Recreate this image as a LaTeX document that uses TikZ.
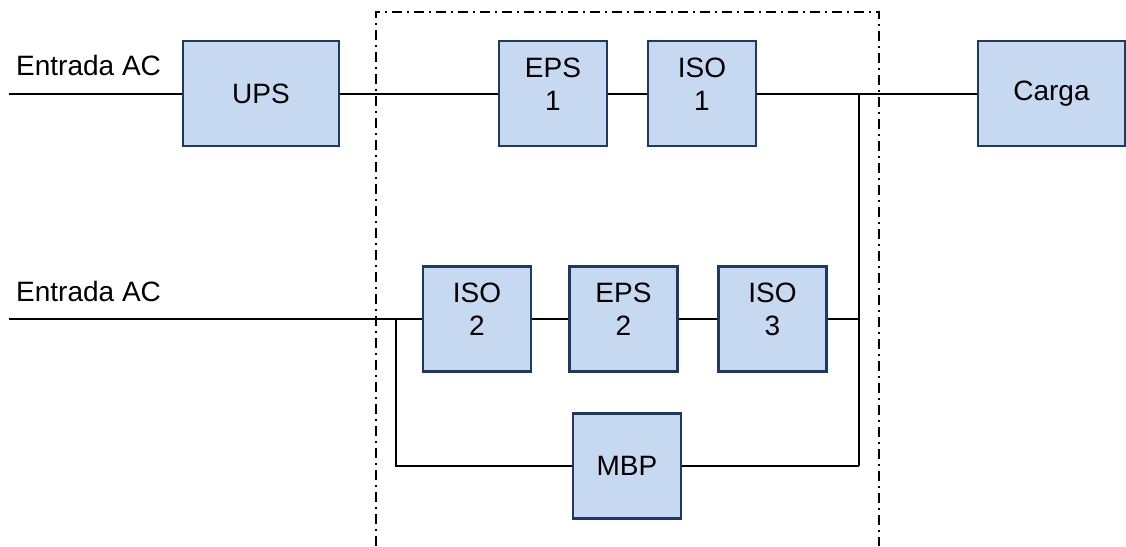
\documentclass[tikz,border=0pt]{standalone}
\usepackage{fontspec}
\setmainfont{Liberation Sans}
\definecolor{boxfill}{HTML}{C6D9F0}
\definecolor{boxline}{HTML}{1F3A60}
\begin{document}
\begin{tikzpicture}[x=1pt,y=-1pt,
  blk/.style={draw=boxline,fill=boxfill,line width=2.2pt,inner sep=0pt,align=center,
    minimum width=108pt,minimum height=105pt,font=\fontsize{28}{33}\selectfont},
  blktwo/.style={blk,text depth=19pt},
  wire/.style={line width=2pt,black},
  lbl/.style={font=\fontsize{28}{34}\selectfont,anchor=base west,inner sep=0pt},
  frame/.style={line width=2pt,dash pattern=on 10pt off 5pt on 2pt off 5pt}]
\useasboundingbox (0,0) rectangle (1126,546);
% frame
\draw[frame] (376,546) -- (376,12) -- (879,12) -- (879,546);
% blocks
\node[blk,minimum width=156pt] (ups) at (261,93.5) {UPS};
\node[blktwo] (eps1) at (553,93.5) {EPS\\1};
\node[blktwo] (iso1) at (702,93.5) {ISO\\1};
\node[blk,minimum width=147pt] (carga) at (1051.5,93.5) {Carga};
\node[blktwo] (iso2) at (477,319) {ISO\\2};
\node[blktwo] (eps2) at (623.5,319) {EPS\\2};
\node[blktwo] (iso3) at (772.5,319) {ISO\\3};
\node[blk] (mbp) at (627,466) {MBP};
% labels
\node[lbl] (l1) at (16,75) {Entrada AC};
\node[lbl] (l2) at (16,301) {Entrada AC};
% coordinates
\coordinate (in1) at (9,93.5);
\coordinate (in2) at (9,319);
\coordinate (j1) at (859,93.5);
\coordinate (j2) at (859,319);
\coordinate (j3) at (859,466);
\coordinate (s1) at (396,319);
\coordinate (s2) at (396,466);
% wires
\draw[wire] (in1) -- (ups);
\draw[wire] (ups) -- (eps1);
\draw[wire] (eps1) -- (iso1);
\draw[wire] (iso1) -- (carga);
\draw[wire] (in2) -- (iso2);
\draw[wire] (iso2) -- (eps2);
\draw[wire] (eps2) -- (iso3);
\draw[wire] (iso3) -- (j2);
\draw[wire] (j1) -- (j3);
\draw[wire] (s1) -- (s2) -- (mbp);
\draw[wire] (mbp) -- (j3);
\end{tikzpicture}
\end{document}
